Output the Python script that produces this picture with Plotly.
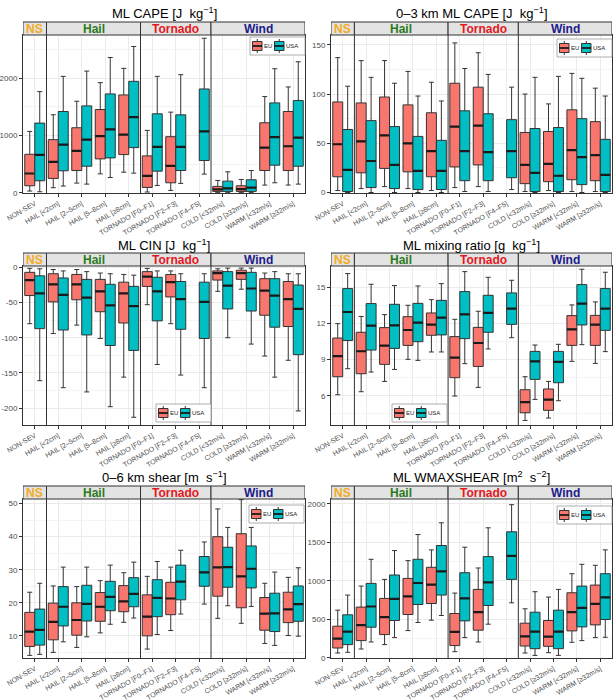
import plotly.graph_objects as go

# ---------------- data ----------------
categories = ["NON-SEV", "HAIL [<2cm]", "HAIL [2–5cm]", "HAIL [5–8cm]", "HAIL [≥8cm]",
              "TORNADO [F0–F1]", "TORNADO [F2–F3]", "TORNADO [F4–F5]",
              "COLD [<32m/s]", "COLD [≥32m/s]", "WARM [<32m/s]", "WARM [≥32m/s]"]
facets = ["NS", "Hail", "Tornado", "Wind"]
facet_sizes = [1, 4, 3, 4]
regions = ["EU", "USA"]

# each entry: (lower whisker, q1, median, q3, upper whisker); None = no data
cape_eu = [(29, 121, 335, 670, 1069), (87, 249, 538, 925, 1360), (168, 387, 728, 1133, 1595),
           (329, 590, 988, 1451, 1919), (358, 665, 1012, 1705, 2168), (12, 92, 295, 642, 1087),
           (40, 173, 468, 977, 1405), None, (6, 23, 58, 110, 214), (6, 23, 64, 121, 231),
           (133, 387, 786, 1220, 1676), (133, 387, 810, 1416, 1844)]
cape_usa = [(17, 208, 660, 1214, 1763), (116, 382, 838, 1416, 2029), (150, 462, 925, 1514, 2121),
            (266, 607, 1104, 1723, 2358), (341, 786, 1318, 1942, 2549), (127, 376, 798, 1376, 2029),
            (162, 387, 798, 1358, 2058), (324, 561, 1069, 1809, 2694), (6, 23, 75, 202, 364),
            (6, 23, 87, 225, 387), (173, 480, 971, 1566, 2162), (150, 462, 960, 1607, 2283)]

cape03_eu = [(2, 16, 49, 92, 137), (4, 20, 52, 91, 134), (6, 24.5, 58, 97, 134), (4, 21, 50, 89, 123),
             (2, 16, 42, 81, 112), (5, 26, 67, 111, 152), (6, 28, 68, 107, 142), None,
             (1, 9, 28, 61, 100), (2, 11, 29, 62, 90), (1, 13, 43, 84, 121), (1, 12, 38, 72, 106)]
cape03_usa = [(0, 1, 23, 64, 108), (0, 5, 32, 73, 117), (0, 4, 28, 67, 111), (0, 3, 22, 57, 98),
              (0, 3, 22, 53, 93), (1, 12, 42, 83, 126), (1, 12, 41, 80, 120), (3, 15, 42, 74, 107),
              (0, 1, 20, 65, 117), (0, 1, 17, 66, 118), (0, 8, 36, 75, 116), (0, 1, 18, 54, 98)]

cin_eu = [(-80, -40, -18, -7, -1.4), (-94, -49, -24, -9, -3), (-82, -46, -24, -10, -3),
          (-101, -63, -34, -17, -8), (-156, -79, -37, -21, -10), (-53, -27, -13, -6, -1.4),
          (-80, -42, -21, -10, -5), None, (-34, -18, -8, -5, -2), (-31, -17, -8, -4, -1),
          (-126, -68, -33, -16, -8), (-132, -84, -45, -20, -9)]
cin_usa = [(-161, -87, -37, -12, -2), (-171, -89, -39, -15, -5), (-177, -96, -43, -17, -6),
           (-198, -111, -54, -24, -9), (-213, -118, -55, -27, -11), (-138, -76, -34, -14, -5),
           (-153, -88, -45, -20, -9), (-171, -101, -49, -21, -9), (-100, -59, -26, -6, -1),
           (-109, -62, -30, -7, -1), (-156, -85, -40, -16, -6), (-204, -124, -59, -25, -9)]

mixr_eu = [(6.08, 7.58, 9.3, 10.8, 12.0), (6.33, 7.83, 9.7, 11.28, 12.6), (7.19, 8.61, 10.17, 11.67, 12.75),
           (9.03, 10.19, 11.47, 12.58, 13.53), (9.64, 11.03, 11.92, 12.89, 14.0), (5.97, 7.5, 9.17, 10.92, 12.36),
           (6.69, 8.44, 10.39, 11.69, 13.03), None, (3.94, 4.58, 5.47, 6.5, 7.58), (4.14, 4.78, 5.67, 6.56, 7.19),
           (8.86, 10.19, 11.53, 12.67, 13.56), (8.69, 10.19, 11.92, 12.69, 13.81)]
mixr_usa = [(8.25, 10.6, 12.97, 14.92, 16.17), (7.97, 9.8, 11.83, 13.67, 15.28), (8.19, 9.94, 11.86, 13.61, 15.17),
            (8.94, 10.5, 12.08, 13.69, 15.14), (9.64, 11.06, 12.5, 13.94, 15.33), (8.67, 10.75, 12.78, 14.67, 16.33),
            (9.89, 11.28, 12.89, 14.36, 15.86), (10.83, 11.94, 13.25, 14.56, 15.61), (5.69, 7.36, 8.86, 9.69, 10.22),
            (5.58, 7.08, 8.81, 9.69, 10.28), (10.25, 11.89, 13.67, 15.25, 16.53), (9.67, 11.44, 13.25, 14.92, 16.28)]

shear_eu = [(4.1, 6.8, 11.3, 17.1, 23.2), (5.0, 8.8, 14.2, 19.9, 25.1), (6.5, 10.2, 14.8, 20.0, 24.9),
            (10.9, 14.4, 18.8, 23.1, 26.7), (14.1, 17.3, 20.4, 25.2, 29.1), (6.0, 10.0, 15.8, 22.4, 28.0),
            (11.6, 16.4, 21.3, 26.2, 30.8), None, (15.3, 22.0, 30.7, 40.0, 48.4), (13.8, 18.5, 28.0, 40.9, 51.2),
            (7.7, 11.7, 16.7, 21.6, 25.9), (10.1, 14.0, 18.0, 23.2, 27.7)]
shear_usa = [(4.4, 7.2, 11.8, 18.1, 25.9), (8.2, 13.0, 18.8, 24.9, 30.8), (9.7, 14.5, 19.7, 25.3, 30.8),
             (13.5, 17.6, 21.8, 26.5, 31.4), (15.4, 18.8, 22.7, 27.6, 32.3), (10.4, 15.8, 21.5, 27.0, 32.5),
             (16.6, 20.9, 26.4, 31.4, 35.9), (19.6, 25.0, 29.2, 34.0, 38.4), (19.1, 24.7, 30.8, 36.8, 42.8),
             (18.9, 24.5, 30.3, 37.2, 42.8), (7.1, 11.3, 16.8, 22.9, 29.3), (9.9, 14.4, 19.6, 25.1, 30.6)]

wmax_eu = [(61, 126, 248, 409, 617), (113, 222, 422, 657, 930), (170, 300, 526, 770, 1017),
           (352, 561, 796, 1030, 1261), (487, 704, 948, 1174, 1400), (78, 157, 335, 574, 839),
           (204, 357, 591, 887, 1165), None, (61, 152, 278, 448, 635), (65, 148, 274, 483, 787),
           (200, 348, 591, 843, 1091), (261, 426, 700, 943, 1200)]
wmax_usa = [(70, 170, 339, 557, 813), (204, 396, 665, 965, 1278), (261, 483, 765, 1074, 1391),
            (457, 691, 970, 1278, 1600), (548, 813, 1122, 1457, 1752), (261, 478, 770, 1104, 1435),
            (435, 678, 978, 1313, 1687), (713, 1017, 1322, 1635, 1987), (30, 117, 339, 591, 857),
            (30, 117, 339, 617, 887), (222, 400, 648, 930, 1213), (265, 496, 783, 1091, 1400)]

titles = ["ML CAPE [J  kg<sup>−1</sup>]", "0–3 km ML CAPE [J  kg<sup>−1</sup>]",
          "ML CIN [J  kg<sup>−1</sup>]", "ML mixing ratio [g  kg<sup>−1</sup>]",
          "0–6 km shear [m  s<sup>−1</sup>]", "ML WMAXSHEAR [m<sup>2</sup>  s<sup>−2</sup>]"]
series = [(cape_eu, cape_usa), (cape03_eu, cape03_usa), (cin_eu, cin_usa),
          (mixr_eu, mixr_usa), (shear_eu, shear_usa), (wmax_eu, wmax_usa)]
y_ticks = [[0, 1000, 2000], [0, 50, 100, 150], [-200, -150, -100, -50, 0],
           [6, 9, 12, 15], [10, 20, 30, 40, 50], [0, 500, 1000, 1500, 2000]]

# ---------------- styles ----------------
W, H = 616, 700
fill_colors = {"EU": "#F8766D", "USA": "#00BFC4"}
facet_colors = ["#F2AC22", "#2B7A1E", "#E3191F", "#1B1B8A"]
line_col = "#333333"
FONT = "Liberation Sans, Arial, sans-serif"
y_ranges = [[-5, 2750], [-0.5, 160], [-224, 2], [3.56, 16.8], [3.3, 51.4], [-4, 2061]]
x_domains = [[23 / W, 305 / W], [331 / W, 612 / W]]
rows_px = [(35, 193), (266, 425), (499, 658)]
title_px = [13, 245, 477]
legend_px = [(250, 37), (557, 39), (156, 404), (392, 404), (249, 505), (557, 506)]
STRIP = 13  # px


def px_x(v):
    return v / W


def px_y(v):
    return 1 - v / H


fig = go.Figure()
shapes, annots = [], []
layout = {}

for i in range(6):
    n = i + 1
    xa = "x" if n == 1 else f"x{n}"
    ya = "y" if n == 1 else f"y{n}"
    row, col = i // 2, i % 2
    top_px, bot_px = rows_px[row]
    ydom = [px_y(bot_px), px_y(top_px)]
    strip_frac = STRIP / (bot_px - top_px)

    for reg, data in zip(regions, series[i]):
        xs = [c for c, d in zip(categories, data) if d is not None]
        ds = [d for d in data if d is not None]
        fig.add_trace(go.Box(
            x=xs, lowerfence=[d[0] for d in ds], q1=[d[1] for d in ds], median=[d[2] for d in ds],
            q3=[d[3] for d in ds], upperfence=[d[4] for d in ds],
            name=reg, fillcolor=fill_colors[reg], line=dict(color=line_col, width=1),
            whiskerwidth=0.5, boxpoints=False, offsetgroup=reg, alignmentgroup=f"p{n}",
            xaxis=xa, yaxis=ya, showlegend=False, legendgroup=reg))
        # thicker median line (as in the reference)
        fig.add_trace(go.Box(
            x=xs, lowerfence=[d[2] for d in ds], q1=[d[2] for d in ds], median=[d[2] for d in ds],
            q3=[d[2] for d in ds], upperfence=[d[2] for d in ds],
            name=reg, fillcolor="rgba(0,0,0,0)", line=dict(color="#1a1a1a", width=2.2),
            whiskerwidth=0, boxpoints=False, offsetgroup=reg, alignmentgroup=f"p{n}",
            xaxis=xa, yaxis=ya, showlegend=False, hoverinfo="skip"))

    tv = y_ticks[i]
    step = tv[1] - tv[0]
    layout["xaxis" if n == 1 else f"xaxis{n}"] = dict(
        domain=x_domains[col], anchor=ya, type="category", categoryorder="array",
        categoryarray=categories, range=[-0.5, 11.5], tickangle=-30, automargin=False,
        tickfont=dict(size=7, color="#4D4D4D", family=FONT), showgrid=True, gridcolor="#EBEBEB",
        gridwidth=0.8, showline=True, mirror=True, linecolor=line_col, linewidth=1,
        ticks="outside", ticklen=3, tickcolor=line_col, zeroline=False)
    layout["yaxis" if n == 1 else f"yaxis{n}"] = dict(
        domain=ydom, anchor=xa, range=y_ranges[i], tickvals=tv, ticktext=[str(t) for t in tv],
        automargin=False,
        tickfont=dict(size=8, color="#4D4D4D", family=FONT), showgrid=True, gridcolor="#EBEBEB",
        gridwidth=0.8, minor=dict(dtick=step / 2, tick0=tv[0], showgrid=True, gridcolor="#F4F4F4", gridwidth=0.6),
        showline=True, mirror=True, linecolor=line_col, linewidth=1, ticks="outside", ticklen=3,
        tickcolor=line_col, zeroline=False)

    xd = xa + " domain"
    yd = ya + " domain"
    # facet strips
    start = -0.5
    for fname, fsize, fcol in zip(facets, facet_sizes, facet_colors):
        end = start + fsize
        shapes.append(dict(type="rect", xref=xa, yref=yd, x0=start, x1=end, y0=1, y1=1 + strip_frac,
                           fillcolor="#E3E3E3", line=dict(color=line_col, width=1), layer="above"))
        annots.append(dict(text=f"<b>{fname}</b>", xref=xa, yref=yd, x=(start + end) / 2,
                           y=1 + strip_frac / 2, showarrow=False, xanchor="center", yanchor="middle",
                           font=dict(size=12, color=fcol, family=FONT)))
        if start > -0.5:
            shapes.append(dict(type="line", xref=xa, yref=yd, x0=start, x1=start, y0=0, y1=1,
                               line=dict(color=line_col, width=1), layer="above"))
        start = end
    # panel title
    annots.append(dict(text=titles[i], xref=xd, yref="paper", x=0.5, y=px_y(title_px[row]),
                       showarrow=False, xanchor="center", yanchor="middle",
                       font=dict(size=13, color="black", family=FONT)))
    # legend key box (EU / USA)
    lx, ly = legend_px[i]
    lw, lh = 55, 18
    shapes.append(dict(type="rect", xref="paper", yref="paper", x0=px_x(lx), x1=px_x(lx + lw),
                       y0=px_y(ly + lh), y1=px_y(ly), fillcolor="white",
                       line=dict(color="#9A9A9A", width=0.8), layer="above"))
    cy = ly + lh / 2
    for dx, reg in [(2.5, "EU"), (24.5, "USA")]:
        kx0, kx1 = lx + dx, lx + dx + 9.5
        kc = (kx0 + kx1) / 2
        shapes.append(dict(type="line", xref="paper", yref="paper", x0=px_x(kc), x1=px_x(kc),
                           y0=px_y(cy + 7), y1=px_y(cy - 7), line=dict(color=line_col, width=1),
                           layer="above"))
        shapes.append(dict(type="rect", xref="paper", yref="paper", x0=px_x(kx0), x1=px_x(kx1),
                           y0=px_y(cy + 4.5), y1=px_y(cy - 4.5), fillcolor=fill_colors[reg],
                           line=dict(color=line_col, width=1), layer="above"))
        shapes.append(dict(type="line", xref="paper", yref="paper", x0=px_x(kx0), x1=px_x(kx1),
                           y0=px_y(cy), y1=px_y(cy), line=dict(color="#1a1a1a", width=1.8),
                           layer="above"))
        annots.append(dict(text=reg, xref="paper", yref="paper", x=px_x(kx1 + 1), y=px_y(cy),
                           showarrow=False, xanchor="left", yanchor="middle", borderpad=0,
                           font=dict(size=6, color="#1a1a1a", family=FONT)))

fig.update_layout(
    width=W, height=H, margin=dict(l=0, r=0, t=0, b=0, autoexpand=False), paper_bgcolor="white",
    plot_bgcolor="white", boxmode="group", boxgap=0.15, boxgroupgap=0.0,
    showlegend=False, shapes=shapes, annotations=annots, font=dict(family=FONT), **layout)

# remove the default 8px page margin so the 616x700 figure fills the window exactly
fig.write_html("out.html", config={"displayModeBar": False},
               post_script="document.body.style.margin='0';document.body.style.overflow='hidden';")
